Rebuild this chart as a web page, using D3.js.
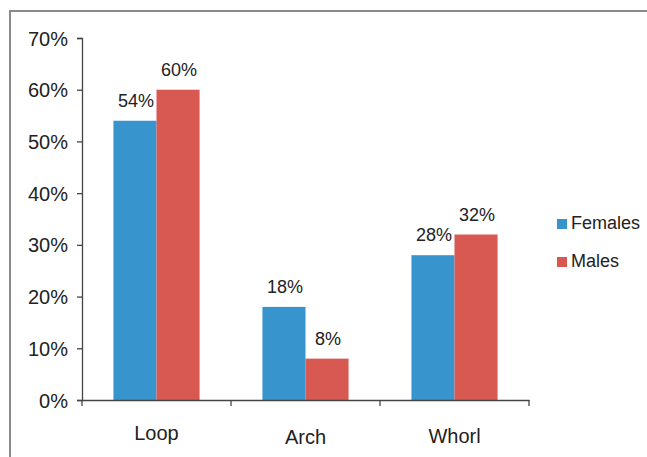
<!DOCTYPE html>
<html>
<head>
<meta charset="utf-8">
<title>chart</title>
<style>
  body { margin: 0; background: #fff; }
  text { font-family: "Liberation Sans", Arial, sans-serif; fill: #222; }
</style>
</head>
<body>
<div id="chart"></div>
<script src="https://cdn.jsdelivr.net/npm/d3@7"></script>
<script>
var categories = ['Loop', 'Arch', 'Whorl'];
var seriesNames = ['Females', 'Males'];
var females = [54, 18, 28];
var males = [60, 8, 32];
var yTicks = [0, 10, 20, 30, 40, 50, 60, 70];
var colors = ['#3794cd', '#d85852'];

var W = 647, H = 457;
var plotLeft = 82, plotRight = 529, plotTop = 38, plotBottom = 400;

var svg = d3.select('#chart').append('svg')
  .attr('width', W)
  .attr('height', H);

// frame (top + left only, like the source)
svg.append('path')
  .attr('d', 'M10,' + H + 'V11H' + W)
  .attr('fill', 'none')
  .attr('stroke', '#8a8a8a')
  .attr('stroke-width', 2);

var x = d3.scaleBand().domain(categories).range([plotLeft, plotRight]).paddingInner(0).paddingOuter(0);
var x1 = d3.scaleBand().domain(seriesNames).range([0, x.bandwidth()]).paddingInner(0).paddingOuter(0.73);
var y = d3.scaleLinear().domain([0, 70]).range([plotBottom, plotTop]);

// y axis
var yAxis = svg.append('g')
  .attr('transform', 'translate(' + plotLeft + ',0)')
  .call(d3.axisLeft(y).tickValues(yTicks).tickSize(5).tickPadding(9).tickFormat(d => d + '%'));
yAxis.selectAll('text').style('font-size', '20px').attr('dy', '0.35em');
yAxis.selectAll('line, path').attr('stroke', '#444').attr('stroke-width', 1.3);

var data = categories.map((c, i) => ({ cat: c, vals: [females[i], males[i]] }));

var groups = svg.selectAll('.grp').data(data).enter().append('g')
  .attr('transform', d => 'translate(' + x(d.cat) + ',0)');

groups.selectAll('rect').data(d => d.vals.map((v, j) => ({ s: seriesNames[j], v: v, j: j })))
  .enter().append('rect')
  .attr('x', d => x1(d.s))
  .attr('width', x1.bandwidth())
  .attr('y', d => y(d.v))
  .attr('height', d => plotBottom - y(d.v))
  .attr('fill', d => colors[d.j]);

groups.selectAll('.lbl').data(d => d.vals.map((v, j) => ({ s: seriesNames[j], v: v })))
  .enter().append('text')
  .attr('x', d => x1(d.s) + x1.bandwidth() / 2 + 1)
  .attr('y', d => y(d.v) - 14)
  .attr('text-anchor', 'middle')
  .style('font-size', '18px')
  .text(d => d.v + '%');

// x axis
var xAxis = svg.append('g')
  .attr('transform', 'translate(0,' + plotBottom + ')')
  .call(d3.axisBottom(x).tickSize(0).tickPadding(0).tickFormat(''));
xAxis.selectAll('path').attr('stroke', '#444').attr('stroke-width', 1.3);
xAxis.selectAll('.tick').remove();
var edges = [plotLeft].concat(categories.map(c => x(c) + x.bandwidth()));
xAxis.selectAll('.edge').data(edges).enter().append('line')
  .attr('x1', d => d).attr('x2', d => d)
  .attr('y1', 0).attr('y2', 6)
  .attr('stroke', '#444').attr('stroke-width', 1.3);

var catY = [440, 444, 443];
svg.selectAll('.cat').data(categories).enter().append('text')
  .attr('x', d => x(d) + x.bandwidth() / 2)
  .attr('y', (d, i) => catY[i])
  .attr('text-anchor', 'middle')
  .style('font-size', '20px')
  .text(d => d);

// legend
var legend = svg.selectAll('.leg').data(seriesNames).enter().append('g')
  .attr('transform', (d, i) => 'translate(557,' + (219 + i * 38) + ')');
legend.append('rect')
  .attr('width', 10).attr('height', 10)
  .attr('fill', (d, i) => colors[i]);
legend.append('text')
  .attr('x', 14).attr('y', 10)
  .style('font-size', '18px')
  .text(d => d);
</script>
</body>
</html>
